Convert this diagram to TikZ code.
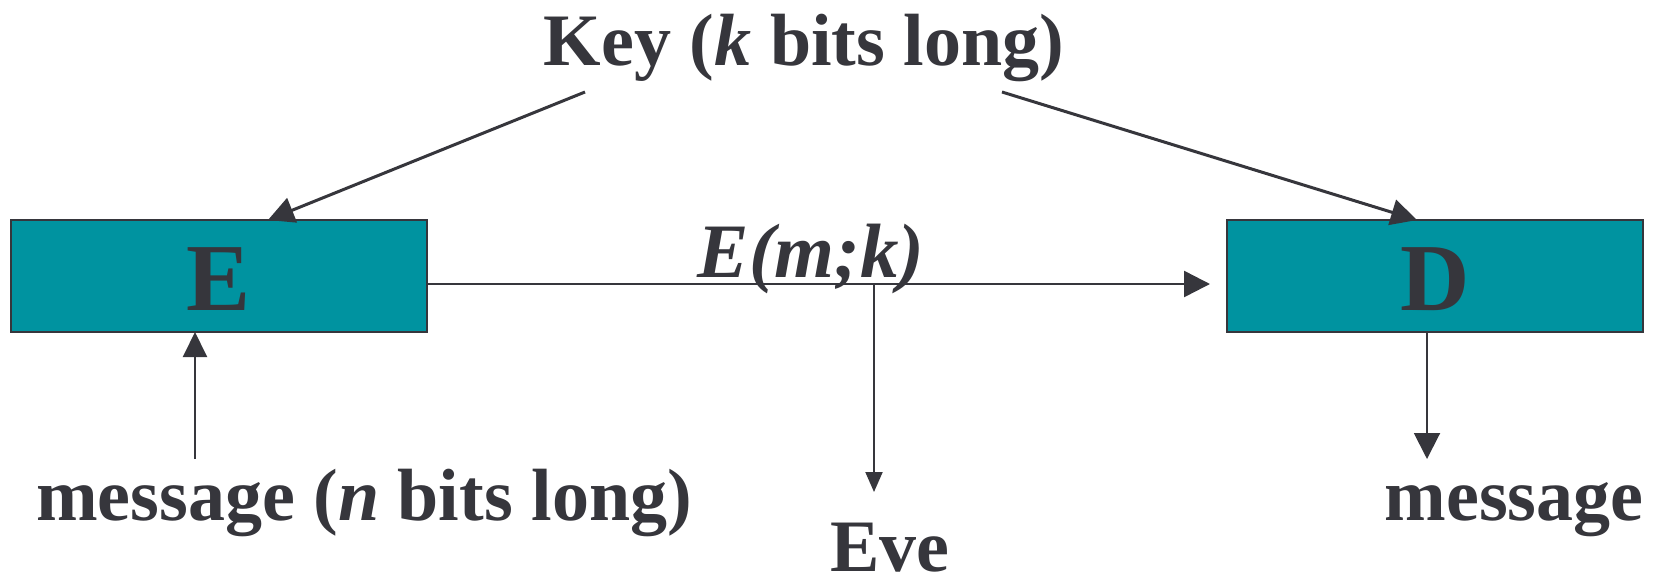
\documentclass[tikz,border=0pt]{standalone}
\usepackage{fontspec}
\setmainfont{Liberation Serif}
\usetikzlibrary{arrows.meta}

\definecolor{ink}{RGB}{54,54,60}
\definecolor{tealbox}{RGB}{0,147,160}

\tikzset{
  cipherbox/.style={draw=ink, line width=2.5pt, fill=tealbox, rectangle,
    minimum width=416pt, minimum height=112pt, inner sep=0pt, outer sep=0pt,
    text=ink, font=\fontsize{96}{96}\selectfont\bfseries,
    text height=68pt, text depth=0pt},
  caption/.style={anchor=base, inner sep=0pt, outer sep=0pt, text=ink,
    font=\fontsize{74}{80}\selectfont\bfseries},
  bigtip/.style={-{Triangle[length=26pt,width=26pt]}},
  midtip/.style={-{Triangle[length=25pt,width=24pt]}},
  smalltip/.style={-{Triangle[length=20pt,width=17pt]}},
  wire/.style={draw=ink, color=ink}
}

\begin{document}
\begin{tikzpicture}[x=1pt, y=-1pt]
  \useasboundingbox (0,0) rectangle (1658,574);

  % encryption and decryption boxes
  \node[cipherbox] (E) at (219,276) {E};
  \node[cipherbox] (D) at (1435,276) {D};

  % labels
  \node[caption] (key) at (804,65) {Key (\textit{k} bits long)};
  \node[caption, font=\fontsize{77}{80}\selectfont\bfseries] (ct) at (811,277) {\itshape E(m;k)};
  \node[caption] (msgin) at (364,520) {message (\textit{n} bits long)};
  \node[caption] (msgout) at (1514,520) {message};
  \node[caption] (eve) at (890,571) {Eve};

  % free ends of the connectors
  \coordinate (k1) at (585,92);
  \coordinate (k2) at (1002,92);
  \coordinate (tap) at (874,284);
  \coordinate (evetip) at (874,492);
  \coordinate (m1) at (195,459);
  \coordinate (m2) at (1427,459);

  % key distribution
  \draw[wire, line width=3pt, bigtip] (k1) -- ([xshift=257pt]E.north west);
  \draw[wire, line width=3pt, bigtip] (k2) -- ([xshift=190pt]D.north west);

  % ciphertext channel
  \draw[wire, line width=2.5pt, bigtip] ([yshift=-8pt]E.east) -- ([xshift=-17pt,yshift=-8pt]D.west);

  % eavesdropper tap
  \draw[wire, line width=2pt, smalltip] (tap) -- (evetip);

  % plaintext in and out
  \draw[wire, line width=2pt, midtip] (m1) -- ([xshift=-24pt]E.south);
  \draw[wire, line width=2pt, bigtip] ([xshift=-8pt]D.south) -- (m2);
\end{tikzpicture}
\end{document}
